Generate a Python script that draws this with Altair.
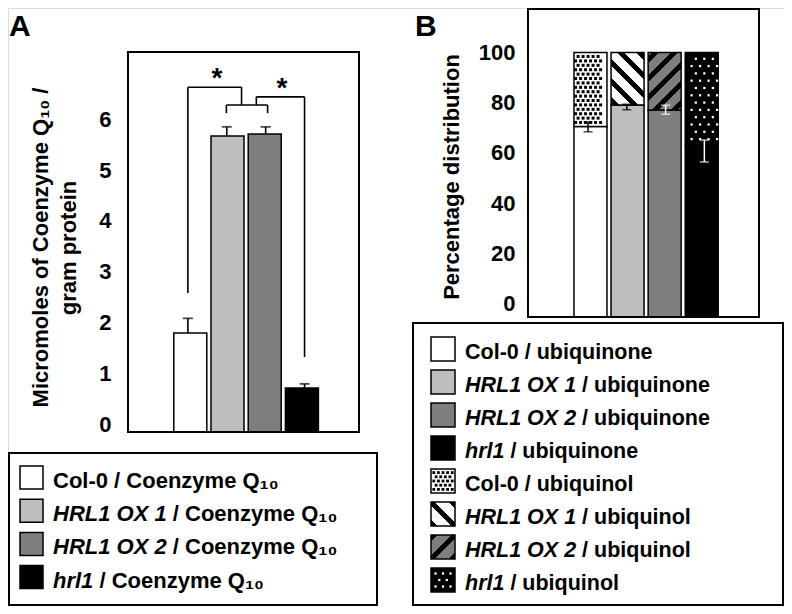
import altair as alt
import numpy as np
import pandas as pd

# ---------------- data ----------------
genotypes = ["Col-0", "HRL1 OX 1", "HRL1 OX 2", "hrl1"]
genotype_italic = [False, True, True, True]
coq10_umol = [1.79, 5.67, 5.71, 0.71]
coq10_sd = [0.29, 0.18, 0.14, 0.08]
ubiquinone_pct = [70.5, 79.1, 77.1, 63.0]
ubiquinone_err_lo = [68.4, 77.2, 75.4, 56.4]
ubiquinone_err_hi = [72.3, 79.4, 79.0, 65.1]
ticks_a = [0, 1, 2, 3, 4, 5, 6]
ticks_b = [0, 20, 40, 60, 80, 100]
# significance brackets of panel A (bar index units / y units)
bracket_x1 = [0.0, 0.0, 1.38, 0.99, 0.99, 2.05, 1.76, 1.76, 3.0]
bracket_x2 = [0.0, 1.38, 1.38, 2.05, 0.99, 2.05, 1.76, 3.0, 3.0]
bracket_y1 = [2.58, 6.63, 6.63, 6.28, 6.28, 6.28, 6.28, 6.44, 6.44]
bracket_y2 = [6.63, 6.63, 6.28, 6.28, 6.12, 6.12, 6.44, 6.44, 1.32]
star_x = [0.75, 2.42]
star_y = [6.63, 6.44]
legend_a_suffix = "/ Coenzyme Q\u2081\u2080"
legend_b_suffixes = ["/ ubiquinone", "/ ubiquinol"]
title_a = ["Micromoles of Coenzyme Q\u2081\u2080 /", "gram protein"]
title_b = "Percentage distribution"

# ---------------- styles / layout ----------------
FONT = "Liberation Sans"
bar_fill = ["#ffffff", "#bebebe", "#7e7e7e", "#000000"]
err_b_color = ["#000000", "#000000", "#ffffff", "#ffffff"]
W, H = 776, 598
BAR_PX = 33

A_XDOM = [-1.54, 4.40]
A_XRNG = [120, 351]
A_YRNG = [424, 44]
A_ZERO, A_PPU = 416, 50.8
a_ydom = [(A_ZERO - A_YRNG[0]) / A_PPU, (A_ZERO - A_YRNG[1]) / A_PPU]

B_XDOM = [-1.55, 4.41]
B_XRNG = [520, 751]
B_YRNG = [309, 1]
B_ZERO, B_PPU = 295.5, 2.51
b_ydom = [(B_ZERO - B_YRNG[0]) / B_PPU, (B_ZERO - B_YRNG[1]) / B_PPU]
b_xppu = (B_XRNG[1] - B_XRNG[0]) / (B_XDOM[1] - B_XDOM[0])

sxa = alt.Scale(domain=A_XDOM, range=A_XRNG, nice=False, zero=False)
sya = alt.Scale(domain=a_ydom, range=A_YRNG, nice=False, zero=False)
sxb = alt.Scale(domain=B_XDOM, range=B_XRNG, nice=False, zero=False)
syb = alt.Scale(domain=b_ydom, range=B_YRNG, nice=False, zero=False)

fill_enc = alt.Fill("genotype:N", scale=alt.Scale(domain=genotypes, range=bar_fill), legend=None)
errcol_enc = alt.Color("genotype:N", scale=alt.Scale(domain=genotypes, range=err_b_color), legend=None)


def PX(f):
    return alt.X(f, type="quantitative", scale=None, axis=None)


def PY(f):
    return alt.Y(f, type="quantitative", scale=None, axis=None)


def XA(f):
    return alt.X(f, type="quantitative", scale=sxa, axis=None)


def YA(f, axis=None):
    return alt.Y(f, type="quantitative", scale=sya, axis=axis)


def XB(f):
    return alt.X(f, type="quantitative", scale=sxb, axis=None)


def YB(f, axis=None):
    return alt.Y(f, type="quantitative", scale=syb, axis=axis)


def stripe_gradient(w, h, direction, period, frac, bg, fg):
    L = w + h
    k = L / (w * w + h * h)
    if direction == "/":
        x1, y1, x2, y2 = 0.0, 0.0, w * k, h * k
    else:
        x1, y1, x2, y2 = 0.0, 1.0, w * k, 1.0 - h * k
    first = L / 2 - frac * period / 2
    a = first - np.ceil(first / period) * period
    stops = [{"offset": 0.0, "color": bg}]
    while a < L:
        b = a + frac * period
        a0, b0 = max(a, 0.0) / L, min(b, L) / L
        if b0 > a0:
            stops += [{"offset": round(float(a0), 4), "color": bg},
                      {"offset": round(float(a0), 4), "color": fg},
                      {"offset": round(float(b0), 4), "color": fg},
                      {"offset": round(float(b0), 4), "color": bg}]
        a += period
    stops.append({"offset": 1.0, "color": bg})
    return {"gradient": "linear", "x1": float(x1), "y1": float(y1),
            "x2": float(x2), "y2": float(y2), "stops": stops}


def dot_offsets(width_px, height_px, step_x, step_y, margin):
    half = width_px / 2 - margin
    n = int(np.floor(2 * half / step_x)) + 1
    span = (n - 1) * step_x
    nrows = int(np.floor((height_px - 2 * margin) / step_y)) + 1
    y0 = (height_px - (nrows - 1) * step_y) / 2
    out = []
    for j in range(nrows):
        shift = (j % 2) * step_x / 2
        for kk in range(-1, n + 1):
            xo = -span / 2 + kk * step_x + shift
            if abs(xo) <= half + 1e-6:
                out.append((xo, y0 + j * step_y))
    return out


layers = []

# ================= Panel A =================
df_a = pd.DataFrame({"genotype": genotypes, "idx": list(range(4)),
                     "value": coq10_umol, "sd": coq10_sd})
df_a["top"] = df_a["value"] + df_a["sd"]
df_a["base"] = a_ydom[0]

axis_a = alt.Axis(orient="left", offset=-A_XRNG[0], values=ticks_a, domain=False, ticks=False,
                  tickSize=0, grid=False, title=None, labelPadding=17, labelFontSize=22,
                  labelFont=FONT, labelFontWeight="bold", labelColor="black")

layers.append(alt.Chart(df_a).mark_bar(size=BAR_PX, stroke="black", strokeWidth=1.5).encode(
    x=XA("idx"), y=YA("value", axis_a), y2="base:Q", fill=fill_enc))
layers.append(alt.Chart(df_a).mark_rule(color="black", strokeWidth=1.6).encode(
    x=XA("idx"), y=YA("value"), y2="top:Q"))
layers.append(alt.Chart(df_a).mark_tick(orient="horizontal", size=10, thickness=1.8, color="black").encode(
    x=XA("idx"), y=YA("top")))

df_br = pd.DataFrame({"x1": bracket_x1, "x2": bracket_x2, "y1": bracket_y1, "y2": bracket_y2})
layers.append(alt.Chart(df_br).mark_rule(color="black", strokeWidth=1.6).encode(
    x=XA("x1"), x2="x2:Q", y=YA("y1"), y2="y2:Q"))
df_star = pd.DataFrame({"sx": star_x, "sy": star_y})
layers.append(alt.Chart(df_star).mark_text(text="*", font=FONT, fontSize=28, fontWeight="bold",
                                            align="center", baseline="alphabetic", color="black").encode(
    x=XA("sx"), y=YA("sy")))

df_fa = pd.DataFrame({"x1": [A_XDOM[0]], "x2": [A_XDOM[1]], "y1": [a_ydom[0]], "y2": [a_ydom[1]]})
layers.append(alt.Chart(df_fa).mark_rect(filled=False, stroke="black", strokeWidth=2).encode(
    x=XA("x1"), x2="x2:Q", y=YA("y1"), y2="y2:Q"))

# ================= Panel B =================
df_b = pd.DataFrame({"genotype": genotypes, "idx": list(range(4)), "quinone": ubiquinone_pct,
                     "lo": ubiquinone_err_lo, "hi": ubiquinone_err_hi})
df_b["base"] = b_ydom[0]
df_b["full"] = 100.0

axis_b = alt.Axis(orient="left", offset=-B_XRNG[0], values=ticks_b, domain=False, ticks=False,
                  tickSize=0, grid=False, title=None, labelPadding=13, labelFontSize=22,
                  labelFont=FONT, labelFontWeight="bold", labelColor="black")

layers.append(alt.Chart(df_b).mark_bar(size=BAR_PX, stroke="black", strokeWidth=1.5).encode(
    x=XB("idx"), y=YB("quinone", axis_b), y2="base:Q", fill=fill_enc))

ol_styles = [
    {"fill": "white"},
    {"fill": stripe_gradient(BAR_PX, (100 - ubiquinone_pct[1]) * B_PPU, "\\", 19, 0.36, "white", "black")},
    {"fill": stripe_gradient(BAR_PX, (100 - ubiquinone_pct[2]) * B_PPU, "/", 19, 0.36, bar_fill[2], "black")},
    {"fill": "black"},
]
for i, g in enumerate(genotypes):
    layers.append(alt.Chart(df_b).transform_filter(alt.datum.idx == i).mark_bar(
        size=BAR_PX, stroke="black", strokeWidth=1.5, **ol_styles[i]).encode(
        x=XB("idx"), y=YB("quinone"), y2="full:Q"))

# dotted textures of the ubiquinol parts (Col-0, hrl1)
tex_specs = [(0, 5.0, 4.4, 2.5, "black", 9), (3, 8.5, 7.3, 3.0, "white", 5)]
for gi, sx, sy, mg, col, sz in tex_specs:
    hpx = (100 - ubiquinone_pct[gi]) * B_PPU
    offs = dot_offsets(BAR_PX, hpx, sx, sy, mg)
    df_t = pd.DataFrame({"x": [gi + o[0] / b_xppu for o in offs],
                         "y": [ubiquinone_pct[gi] + o[1] / B_PPU for o in offs]})
    layers.append(alt.Chart(df_t).mark_square(size=sz, color=col, opacity=1, strokeWidth=0).encode(
        x=XB("x"), y=YB("y")))

layers.append(alt.Chart(df_b).mark_rule(strokeWidth=1.5).encode(
    x=XB("idx"), y=YB("lo"), y2="hi:Q", color=errcol_enc))
layers.append(alt.Chart(df_b).mark_tick(orient="horizontal", size=9, thickness=1.5).encode(
    x=XB("idx"), y=YB("lo"), color=errcol_enc))
layers.append(alt.Chart(df_b).mark_tick(orient="horizontal", size=9, thickness=1.5).encode(
    x=XB("idx"), y=YB("hi"), color=errcol_enc))

df_fb = pd.DataFrame({"x1": [B_XDOM[0]], "x2": [B_XDOM[1]], "y1": [b_ydom[0]], "y2": [b_ydom[1]]})
layers.append(alt.Chart(df_fb).mark_rect(filled=False, stroke="black", strokeWidth=2).encode(
    x=XB("x1"), x2="x2:Q", y=YB("y1"), y2="y2:Q"))

# ================= titles / letters =================
one = pd.DataFrame({"d": [0]})
txt = dict(font=FONT, fontWeight="bold", color="black")
layers.append(alt.Chart(one).mark_text(text="A", fontSize=30, align="left", baseline="alphabetic", **txt).encode(
    x=alt.value(1), y=alt.value(28)))
layers.append(alt.Chart(one).mark_text(text="B", fontSize=30, align="left", baseline="alphabetic", **txt).encode(
    x=alt.value(407), y=alt.value(28)))
layers.append(alt.Chart(one).mark_text(text=title_a[0], fontSize=22, angle=270, align="center",
                                       baseline="alphabetic", **txt).encode(x=alt.value(40), y=alt.value(239.5)))
layers.append(alt.Chart(one).mark_text(text=title_a[1], fontSize=22, angle=270, align="center",
                                       baseline="alphabetic", **txt).encode(x=alt.value(67.5), y=alt.value(240)))
layers.append(alt.Chart(one).mark_text(text=title_b, fontSize=22, angle=270, align="center",
                                       baseline="alphabetic", **txt).encode(x=alt.value(450.5), y=alt.value(169)))

# ================= legends =================
CW = {' ': 278, '-': 333, '0': 556, '1': 556, '2': 556, 'C': 722, 'H': 722, 'L': 611, 'O': 778,
      'R': 722, 'X': 667, 'h': 611, 'l': 278, 'o': 611, 'r': 389}


def text_w(s, fs):
    return sum(CW.get(c, 556) for c in s) / 1000.0 * fs


LA_BOX = [1, 369, 445, 597]
LA_Y0, LA_DY, LA_SW = 469.5, 33.2, [12, 35]
LB_BOX = [405, 775, 315, 597]
LB_Y0, LB_DY, LB_SW = 341, 33, [423, 447]

df_box = pd.DataFrame({"x1": [LA_BOX[0], LB_BOX[0]], "x2": [LA_BOX[1], LB_BOX[1]],
                       "y1": [LA_BOX[2], LB_BOX[2]], "y2": [LA_BOX[3], LB_BOX[3]]})
layers.append(alt.Chart(df_box).mark_rect(filled=False, stroke="black", strokeWidth=2).encode(
    x=PX("x1"), x2="x2:Q", y=PY("y1"), y2="y2:Q"))

rows, sw_rows = [], []
for i, g in enumerate(genotypes):
    cy = LA_Y0 + i * LA_DY
    rows.append(dict(part1=g, part2=legend_a_suffix, italic=genotype_italic[i], x1=45.0,
                     x2=45.0 + text_w(g + " ", 22), y=cy + 10.5, fs=22))
    sw_rows.append(dict(genotype=g, x1=LA_SW[0], x2=LA_SW[1], y1=cy - 11.5, y2=cy + 11.5))
for s, suf in enumerate(legend_b_suffixes):
    for i, g in enumerate(genotypes):
        cy = LB_Y0 + (s * 4 + i) * LB_DY
        rows.append(dict(part1=g, part2=suf, italic=genotype_italic[i], x1=457.0,
                         x2=457.0 + text_w(g + " ", 21.5), y=cy + 10, fs=21.5))
        if s == 0:
            sw_rows.append(dict(genotype=g, x1=LB_SW[0], x2=LB_SW[1], y1=cy - 12, y2=cy + 12))
df_leg = pd.DataFrame(rows)
df_sw = pd.DataFrame(sw_rows)

layers.append(alt.Chart(df_sw).mark_rect(stroke="black", strokeWidth=1.5).encode(
    x=PX("x1"), x2="x2:Q", y=PY("y1"), y2="y2:Q", fill=fill_enc))

# patterned swatches (ubiquinol)
sw_w = LB_SW[1] - LB_SW[0]
sw_styles = [
    {"fill": "white"},
    {"fill": stripe_gradient(sw_w, sw_w, "\\", 21, 0.38, "white", "black")},
    {"fill": stripe_gradient(sw_w, sw_w, "/", 21, 0.38, bar_fill[2], "black")},
    {"fill": "black"},
]
for i, g in enumerate(genotypes):
    cy = LB_Y0 + (4 + i) * LB_DY
    d = pd.DataFrame({"x1": [LB_SW[0]], "x2": [LB_SW[1]], "y1": [cy - 12], "y2": [cy + 12]})
    layers.append(alt.Chart(d).mark_rect(stroke="black", strokeWidth=1.5, **sw_styles[i]).encode(
        x=PX("x1"), x2="x2:Q", y=PY("y1"), y2="y2:Q"))
for gi, sx, sy, mg, col, sz in [(0, 4.6, 4.2, 2.5, "black", 8), (3, 7.5, 6.5, 3.0, "white", 5)]:
    cy = LB_Y0 + (4 + gi) * LB_DY
    offs = dot_offsets(sw_w, sw_w, sx, sy, mg)
    d = pd.DataFrame({"x": [(LB_SW[0] + LB_SW[1]) / 2 + o[0] for o in offs],
                      "y": [cy - 12 + o[1] for o in offs]})
    layers.append(alt.Chart(d).mark_square(size=sz, color=col, opacity=1, strokeWidth=0).encode(
        x=PX("x"), y=PY("y")))

leg_txt = dict(font=FONT, fontWeight="bold", color="black", align="left", baseline="alphabetic")
layers.append(alt.Chart(df_leg).transform_filter("!datum.italic").mark_text(**leg_txt).encode(
    x=PX("x1"), y=PY("y"), text="part1:N", size=alt.Size("fs:Q", scale=None)))
layers.append(alt.Chart(df_leg).transform_filter("datum.italic").mark_text(fontStyle="italic", **leg_txt).encode(
    x=PX("x1"), y=PY("y"), text="part1:N", size=alt.Size("fs:Q", scale=None)))
layers.append(alt.Chart(df_leg).mark_text(**leg_txt).encode(
    x=PX("x2"), y=PY("y"), text="part2:N", size=alt.Size("fs:Q", scale=None)))

chart = alt.layer(*layers).resolve_scale(x="independent", y="independent").properties(
    width=W, height=H, autosize=alt.AutoSizeParams(type="none"), padding=0
).configure_view(stroke=None).configure(font=FONT)

chart.save("out.html", embed_options={"renderer": "svg", "actions": False})
